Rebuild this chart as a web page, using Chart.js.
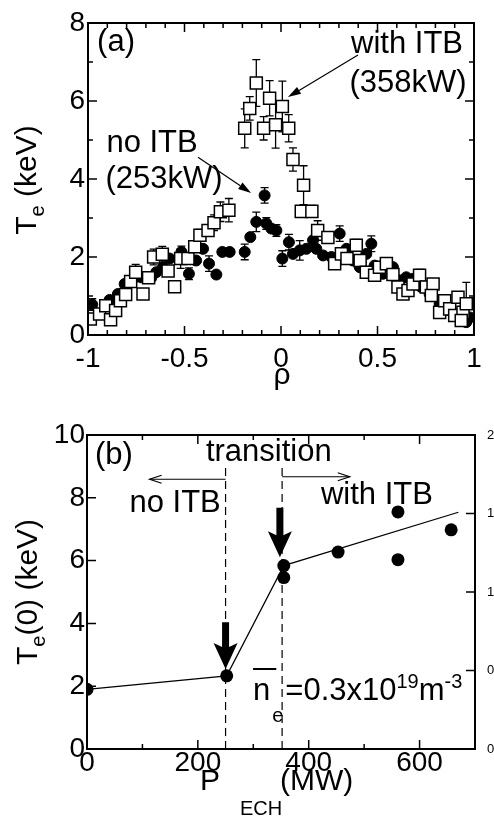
<!DOCTYPE html>
<html>
<head>
<meta charset="utf-8">
<script src="https://cdn.jsdelivr.net/npm/chart.js@4.4.1/dist/chart.umd.min.js"></script>
<style>
  html, body { margin: 0; padding: 0; background: #fff; }
  #wrap { position: relative; width: 494px; height: 817px; }
  #chartA { position: absolute; left: 0; top: 0; }
  #chartB { position: absolute; left: 0; top: 410px; }
</style>
</head>
<body>
<div id="wrap">
  <canvas id="chartA" width="494" height="410"></canvas>
  <canvas id="chartB" width="494" height="407"></canvas>
</div>
<script>
// ---- panel (a): Te profiles vs rho ----
// with ITB (358kW), open squares
const sqRho = [-0.988, -0.94, -0.908, -0.883, -0.857, -0.832, -0.805, -0.779, -0.753, -0.715,
  -0.686, -0.66, -0.615, -0.585, -0.551, -0.52, -0.482, -0.447, -0.42, -0.378,
  -0.347, -0.314, -0.27, -0.188, -0.162, -0.128, -0.09, -0.059, -0.028, 0.007,
  0.04, 0.062, 0.117, 0.105, 0.16, 0.19, 0.243, 0.278, 0.313, 0.342,
  0.39, 0.41, 0.442, 0.485, 0.51, 0.546, 0.58, 0.606, 0.632, 0.658,
  0.684, 0.718, 0.753, 0.788, 0.779, 0.822, 0.848, 0.874, 0.9, 0.917,
  0.943, 0.96, 0.934];
const sqTe = [0.41, 0.54, 0.75, 0.39, 0.63, 0.88, 1.04, 1.37, 1.61, 1.05,
  1.47, 2.0, 2.07, 1.64, 1.24, 1.96, 1.96, 2.26, 2.56, 2.68,
  2.88, 3.16, 3.2, 5.3, 5.81, 6.46, 5.3, 6.07, 5.39, 5.86,
  5.3, 4.5, 3.84, 3.17, 3.17, 2.68, 2.5, 1.83, 2.08, 1.96,
  2.3, 1.91, 1.61, 1.53, 1.74, 1.83, 1.55, 1.23, 1.05, 1.14,
  1.31, 1.53, 1.23, 1.31, 1.01, 0.58, 0.88, 0.67, 0.5, 0.97,
  0.58, 0.8, 0.37];
const sqErr = [0, 0, 0, 0, 0, 0, 0, 0, 0.2, 0,
  0, 0.2, 0.2, 0, 0, 0.25, 0, 0, 0.15, 0,
  0.2, 0.25, 0.3, 0.5, 0.3, 0.6, 0.3, 0.45, 0.6, 0.65,
  0.35, 0.3, 0.5, 0.1, 0.15, 0.25, 0.15, 0, 0.15, 0,
  0.15, 0, 0, 0, 0, 0, 0, 0, 0, 0,
  0, 0.15, 0, 0, 0, 0, 0, 0, 0, 0,
  0, 0.55, 0];

// no ITB (253kW), filled circles
const ciRho = [-0.978, -0.888, -0.845, -0.81, -0.767, -0.724, -0.672, -0.646, -0.611, -0.577,
  -0.516, -0.477, -0.44, -0.404, -0.373, -0.335, -0.304, -0.266, -0.188, -0.159,
  -0.128, -0.085, -0.076, -0.05, -0.024, 0.007, 0.041, 0.062, 0.097, 0.131,
  0.166, 0.183, 0.218, 0.261, 0.304, 0.339, 0.373, 0.408, 0.442, 0.468,
  0.485, 0.528, 0.58, 0.615, 0.649, 0.684, 0.727, 0.77, 0.822, 0.874,
  0.926, 0.96, 0.978];
const ciTe = [0.78, 0.9, 1.05, 1.31, 1.44, 1.48, 1.47, 1.61, 1.74, 1.96,
  2.13, 1.57, 1.91, 2.21, 1.83, 1.55, 2.13, 2.13, 2.13, 2.51,
  2.9, 3.58, 2.86, 2.73, 2.68, 1.96, 2.38, 2.08, 2.17, 2.21,
  2.43, 2.21, 2.04, 2.0, 2.6, 2.21, 1.91, 1.74, 2.08, 2.34,
  1.78, 1.57, 1.74, 1.4, 1.48, 1.44, 1.23, 1.05, 0.8, 0.63,
  0.41, 0.33, 0.45];
const ciErr = [0.15, 0, 0, 0, 0, 0, 0, 0, 0, 0,
  0.15, 0.15, 0, 0, 0.2, 0, 0, 0, 0.2, 0,
  0.25, 0.2, 0.15, 0, 0.15, 0.2, 0.2, 0, 0.25, 0,
  0, 0, 0, 0, 0.2, 0, 0, 0, 0, 0.2,
  0, 0, 0, 0, 0, 0, 0, 0, 0, 0,
  0, 0, 0];

const rhoTicks = [-1, -0.5, 0, 0.5, 1];
const teTicks = [0, 2, 4, 6, 8];

// ---- panel (b): Te(0) vs P_ECH ----
const pechPower = [0, 252, 355, 355, 453, 561, 561, 657];
const pechTe0 = [1.9, 2.33, 5.84, 5.46, 6.27, 7.55, 6.03, 6.98];
const fitPower = [0, 252, 355, 670];
const fitTe0 = [1.9, 2.33, 5.84, 7.54];

const powerTicks = [0, 200, 400, 600];
const te0Ticks = [0, 2, 4, 6, 8, 10];
const rightTicks = [0, 0.5, 1, 1.5, 2];

const FONT = '"Liberation Sans", Arial, Helvetica, sans-serif';

// error bars go under the markers
const errorBars = {
  id: 'errorBars',
  beforeDatasetsDraw(chart) {
    const { ctx } = chart;
    const xs = chart.scales.x, ys = chart.scales.y;
    ctx.save();
    ctx.strokeStyle = '#000';
    ctx.lineWidth = 1.3;
    chart.data.datasets.forEach(ds => {
      if (!ds.errs) return;
      ds.data.forEach((p, i) => {
        const e = ds.errs[i];
        if (!e) return;
        const x = xs.getPixelForValue(p.x);
        const y1 = ys.getPixelForValue(p.y - e);
        const y2 = ys.getPixelForValue(p.y + e);
        ctx.beginPath();
        ctx.moveTo(x, y1); ctx.lineTo(x, y2);
        ctx.moveTo(x - 4, y1); ctx.lineTo(x + 4, y1);
        ctx.moveTo(x - 4, y2); ctx.lineTo(x + 4, y2);
        ctx.stroke();
      });
    });
    ctx.restore();
  }
};

// box frame with inward ticks on all sides
function frameTicks(spec) {
  return {
    id: 'frameTicks',
    afterDatasetsDraw(chart) {
      const { ctx, chartArea: a } = chart;
      const xs = chart.scales.x, ys = chart.scales.y;
      ctx.save();
      ctx.strokeStyle = '#000';
      ctx.lineWidth = 1.5;
      ctx.beginPath();
      spec.x.forEach(([v, len]) => {
        const px = xs.getPixelForValue(v);
        ctx.moveTo(px, a.bottom); ctx.lineTo(px, a.bottom - len);
        ctx.moveTo(px, a.top); ctx.lineTo(px, a.top + len);
      });
      spec.y.forEach(([v, len]) => {
        const py = ys.getPixelForValue(v);
        ctx.moveTo(a.left, py); ctx.lineTo(a.left + len, py);
        if (!spec.right) { ctx.moveTo(a.right, py); ctx.lineTo(a.right - len, py); }
      });
      if (spec.right) {
        const rs = chart.scales[spec.right.id];
        spec.right.ticks.forEach(([v, len]) => {
          const py = rs.getPixelForValue(v);
          ctx.moveTo(a.right, py); ctx.lineTo(a.right - len, py);
        });
      }
      ctx.stroke();
      ctx.lineWidth = 2;
      ctx.strokeRect(a.left, a.top, a.right - a.left, a.bottom - a.top);
      ctx.restore();
    }
  };
}

function richText(ctx, parts, x, y) {
  let cx = x;
  parts.forEach(([t, size, dy]) => {
    ctx.font = size + 'px ' + FONT;
    ctx.fillText(t, cx, y + dy);
    cx += ctx.measureText(t).width;
  });
  return cx;
}
function richWidth(ctx, parts) {
  let w = 0;
  parts.forEach(([t, size]) => { ctx.font = size + 'px ' + FONT; w += ctx.measureText(t).width; });
  return w;
}
function rotatedTitle(ctx, parts, x, cy) {
  ctx.save();
  ctx.translate(x, cy);
  ctx.rotate(-Math.PI / 2);
  ctx.textBaseline = 'alphabetic';
  ctx.textAlign = 'left';
  richText(ctx, parts, -richWidth(ctx, parts) / 2, 0);
  ctx.restore();
}
function label(ctx, s, x, y, size, align) {
  ctx.font = size + 'px ' + FONT;
  ctx.textAlign = align || 'center';
  ctx.textBaseline = 'middle';
  ctx.fillText(s, x, y);
}
function arrow(ctx, x1, y1, x2, y2, head, half, open) {
  const ang = Math.atan2(y2 - y1, x2 - x1);
  const bx = x2 - head * Math.cos(ang), by = y2 - head * Math.sin(ang);
  const ox = half * Math.sin(ang), oy = -half * Math.cos(ang);
  ctx.beginPath();
  ctx.moveTo(x1, y1); ctx.lineTo(open ? x2 : bx, open ? y2 : by);
  ctx.stroke();
  ctx.beginPath();
  ctx.moveTo(bx + ox, by + oy); ctx.lineTo(x2, y2); ctx.lineTo(bx - ox, by - oy);
  if (open) { ctx.stroke(); } else { ctx.closePath(); ctx.fill(); }
}
function bigArrow(ctx, x, yTop, yTip) {
  const headLen = 22, half = 12, shaft = 3.5;
  ctx.beginPath();
  ctx.moveTo(x - shaft, yTop);
  ctx.lineTo(x + shaft, yTop);
  ctx.lineTo(x + shaft, yTip - headLen);
  ctx.lineTo(x + half, yTip - headLen - 4);
  ctx.lineTo(x, yTip);
  ctx.lineTo(x - half, yTip - headLen - 4);
  ctx.lineTo(x - shaft, yTip - headLen);
  ctx.closePath();
  ctx.fill();
}

const annotA = {
  id: 'annotA',
  afterDatasetsDraw(chart) {
    const { ctx } = chart;
    const X = v => chart.scales.x.getPixelForValue(v);
    const Y = v => chart.scales.y.getPixelForValue(v);
    ctx.save();
    ctx.fillStyle = '#000';
    ctx.strokeStyle = '#000';
    label(ctx, '(a)', X(-0.953), Y(7.49), 31, 'left');
    label(ctx, 'with ITB', X(0.653), Y(7.44), 31);
    label(ctx, '(358kW)', X(0.658), Y(6.46), 31);
    label(ctx, 'no ITB', X(-0.668), Y(4.9), 31);
    label(ctx, '(253kW)', X(-0.606), Y(4.0), 31);
    ctx.lineWidth = 1.2;
    arrow(ctx, X(0.399), Y(7.18), X(0.036), Y(6.1), 13, 4, false);
    arrow(ctx, X(-0.43), Y(4.56), X(-0.155), Y(3.64), 13, 4, false);
    // axis titles
    rotatedTitle(ctx, [['T', 30, 0], ['e', 20, 8], [' (keV)', 30, 0]], 36, 180);
    label(ctx, '\u03c1', 282, 376, 30);
    ctx.restore();
  }
};

const annotB = {
  id: 'annotB',
  afterDatasetsDraw(chart) {
    const { ctx } = chart;
    const X = v => chart.scales.x.getPixelForValue(v);
    const Y = v => chart.scales.y.getPixelForValue(v);
    ctx.save();
    ctx.fillStyle = '#000';
    ctx.strokeStyle = '#000';
    // transition window
    ctx.lineWidth = 1.2;
    ctx.setLineDash([8, 5]);
    ctx.beginPath();
    ctx.moveTo(X(250), Y(0)); ctx.lineTo(X(250), Y(8.97));
    ctx.moveTo(X(352), Y(0)); ctx.lineTo(X(352), Y(9.0));
    ctx.stroke();
    ctx.setLineDash([]);
    arrow(ctx, X(250), Y(8.59), X(113), Y(8.59), 12, 4, true);
    arrow(ctx, X(352), Y(8.67), X(474), Y(8.67), 12, 4, true);
    bigArrow(ctx, X(250), Y(4.04), Y(2.55));
    bigArrow(ctx, X(348), Y(7.68), Y(6.11));
    label(ctx, '(b)', X(14.4), Y(9.36), 31, 'left');
    label(ctx, 'transition', X(328), Y(9.46), 31);
    label(ctx, 'no ITB', X(159), Y(7.83), 31);
    label(ctx, 'with ITB', X(523), Y(8.09), 31);
    // line-averaged density
    ctx.textAlign = 'left';
    ctx.textBaseline = 'alphabetic';
    const nx = X(299.6), ny = Y(1.56);
    ctx.font = '31px ' + FONT;
    const nw = ctx.measureText('n').width;
    ctx.fillText('n', nx, ny);
    ctx.lineWidth = 2;
    ctx.beginPath(); ctx.moveTo(nx, ny - 31); ctx.lineTo(nx + nw + 6, ny - 31); ctx.stroke();
    richText(ctx, [['e', 20, 22]], nx + nw + 2, ny);
    richText(ctx, [['=0.3x10', 31, 0], ['19', 20, -12], ['m', 31, 0], ['-3', 20, -12]], nx + nw + 15, ny);
    // axis titles
    rotatedTitle(ctx, [['T', 30, 0], ['e', 20, 8], ['(0) (keV)', 30, 0]], 37, 182);
    richText(ctx, [['P', 30, 0]], 200, 380);
    richText(ctx, [['ECH', 20, 0]], 240, 405);
    richText(ctx, [['(MW)', 30, 0]], 280, 380);
    ctx.restore();
  }
};

function tickFont(size) { return { family: FONT, size: size }; }

// ---- chart (a) ----
const xMinorA = [];
for (let i = -10; i <= 10; i++) xMinorA.push([i / 10, i % 5 === 0 ? 9 : 5]);
const yTicksA = [];
for (let i = 0; i <= 8; i++) yTicksA.push([i, i % 2 === 0 ? 9 : 5]);

new Chart(document.getElementById('chartA'), {
  type: 'scatter',
  data: {
    datasets: [
      {
        label: 'with ITB (358kW)',
        data: sqRho.map((r, i) => ({ x: r, y: sqTe[i] })),
        errs: sqErr,
        pointStyle: 'rect',
        pointRadius: 8.5,
        backgroundColor: '#fff',
        borderColor: '#000',
        borderWidth: 1.5
      },
      {
        label: 'no ITB (253kW)',
        data: ciRho.map((r, i) => ({ x: r, y: ciTe[i] })),
        errs: ciErr,
        pointStyle: 'circle',
        pointRadius: 5.5,
        backgroundColor: '#000',
        borderColor: '#000',
        borderWidth: 1
      }
    ]
  },
  options: {
    responsive: false,
    animation: false,
    layout: { padding: { top: 23, right: 20, left: 0, bottom: 0 } },
    plugins: { legend: { display: false }, tooltip: { enabled: false } },
    scales: {
      x: {
        type: 'linear', min: -1, max: 1,
        grid: { display: false, drawTicks: false },
        border: { display: false },
        afterBuildTicks: s => { s.ticks = rhoTicks.map(v => ({ value: v })); },
        afterFit: s => { s.height = 75; },
        ticks: { color: '#000', padding: 7, font: tickFont(28), maxRotation: 0, autoSkip: false, callback: v => String(v) }
      },
      y: {
        min: 0, max: 8,
        grid: { display: false, drawTicks: false },
        border: { display: false },
        afterBuildTicks: s => { s.ticks = teTicks.map(v => ({ value: v })); },
        afterFit: s => { s.width = 88; },
        ticks: { color: '#000', padding: 3, font: tickFont(28), callback: v => String(v) }
      }
    }
  },
  plugins: [errorBars, frameTicks({ x: xMinorA, y: yTicksA }), annotA]
});

// ---- chart (b) ----
const xTicksB = [];
for (let v = 0; v <= 700; v += 100) xTicksB.push([v, v % 200 === 0 ? 9 : 5]);
const yTicksB = te0Ticks.map(v => [v, 9]);

new Chart(document.getElementById('chartB'), {
  type: 'scatter',
  data: {
    datasets: [
      {
        label: 'Te(0)',
        data: pechPower.map((p, i) => ({ x: p, y: pechTe0[i] })),
        pointStyle: 'circle',
        pointRadius: 6.5,
        backgroundColor: '#000',
        borderColor: '#000',
        borderWidth: 0
      },
      {
        label: 'trend',
        data: fitPower.map((p, i) => ({ x: p, y: fitTe0[i] })),
        showLine: true,
        pointRadius: 0,
        borderColor: '#000',
        borderWidth: 1.2,
        fill: false
      }
    ]
  },
  options: {
    responsive: false,
    animation: false,
    layout: { padding: { top: 25, right: 0, left: 0, bottom: 0 } },
    plugins: { legend: { display: false }, tooltip: { enabled: false } },
    scales: {
      x: {
        type: 'linear', min: 0, max: 700,
        grid: { display: false, drawTicks: false },
        border: { display: false },
        afterBuildTicks: s => { s.ticks = powerTicks.map(v => ({ value: v })); },
        afterFit: s => { s.height = 68; },
        ticks: { color: '#000', padding: -3, font: tickFont(28), maxRotation: 0, autoSkip: false, callback: v => String(v) }
      },
      y: {
        min: 0, max: 10,
        grid: { display: false, drawTicks: false },
        border: { display: false },
        afterBuildTicks: s => { s.ticks = te0Ticks.map(v => ({ value: v })); },
        afterFit: s => { s.width = 87; },
        ticks: { color: '#000', padding: 2, font: tickFont(28), callback: v => String(v) }
      },
      y2: {
        position: 'right', min: 0, max: 2,
        grid: { display: false, drawTicks: false },
        border: { display: false },
        afterBuildTicks: s => { s.ticks = rightTicks.map(v => ({ value: v })); },
        afterFit: s => { s.width = 19; },
        ticks: { color: '#000', padding: 12, font: tickFont(13), callback: v => String(v) }
      }
    }
  },
  plugins: [frameTicks({ x: xTicksB, y: yTicksB, right: { id: 'y2', ticks: rightTicks.map(v => [v, 9]) } }), annotB]
});
</script>
</body>
</html>
